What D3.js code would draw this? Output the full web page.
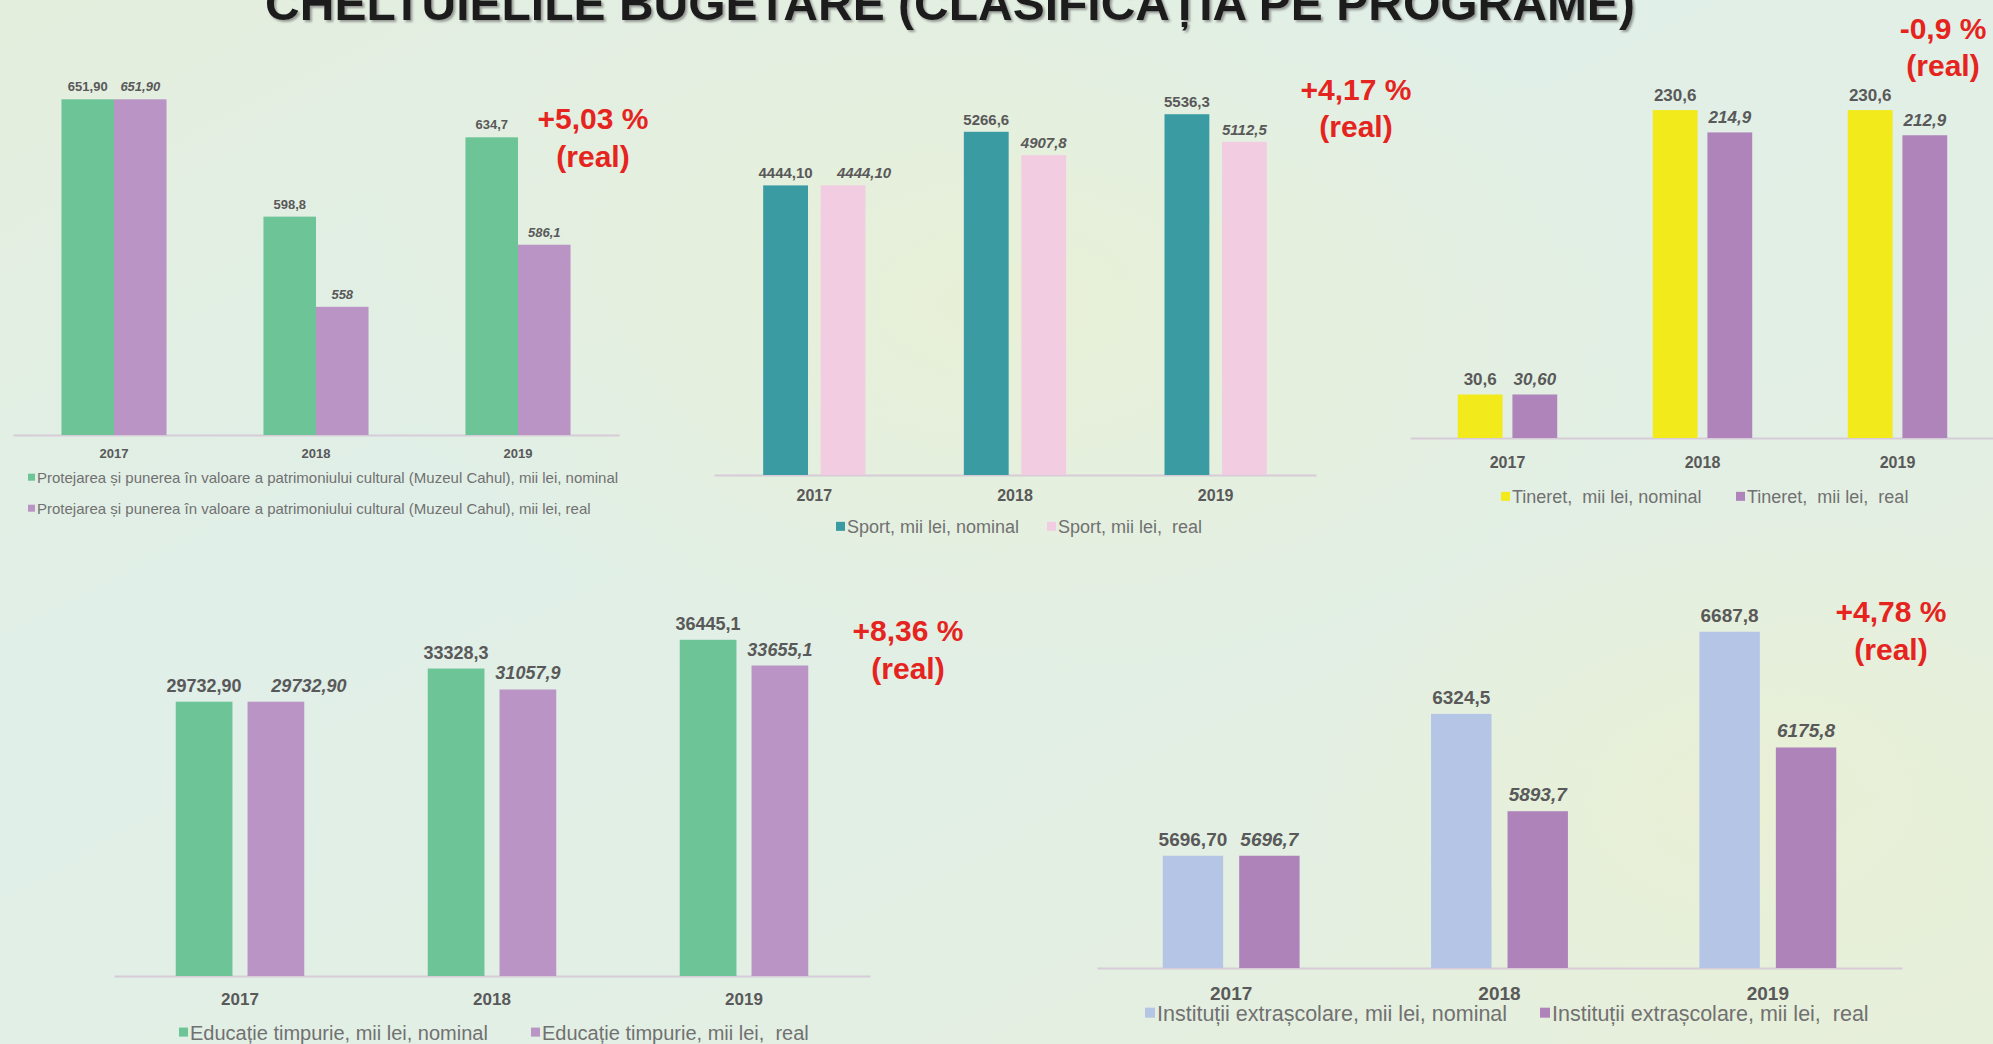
<!DOCTYPE html>
<html>
    <head>
        <title>Cheltuielile bugetare</title>
        <script src="https://d3js.org/d3.v7.min.js"></script>
        <style>
            body { margin: 0; overflow: hidden; }
            svg { display: block; font-family: 'Liberation Sans', Arial, sans-serif; }
            .legend text { white-space: pre; }
        </style>
    </head>
    <body>
        <script>
            const W = 1993
            const H = 1044

            const title = 'CHELTUIELILE BUGETARE (CLASIFICAȚIA PE PROGRAME)'
            const years = ['2017', '2018', '2019']

            // Muzeul Cahul
            const patrimoniuNominal = [651.9, 598.8, 634.7]
            const patrimoniuReal = [651.9, 558, 586.1]
            const patrimoniuNominalLabels = ['651,90', '598,8', '634,7']
            const patrimoniuRealLabels = ['651,90', '558', '586,1']
            const patrimoniuNames = [
                'Protejarea și punerea în valoare a patrimoniului cultural (Muzeul Cahul), mii lei, nominal',
                'Protejarea și punerea în valoare a patrimoniului cultural (Muzeul Cahul), mii lei, real'
            ]

            const sportNominal = [4444.1, 5266.6, 5536.3]
            const sportReal = [4444.1, 4907.8, 5112.5]
            const sportNominalLabels = ['4444,10', '5266,6', '5536,3']
            const sportRealLabels = ['4444,10', '4907,8', '5112,5']
            const sportNames = ['Sport, mii lei, nominal', 'Sport, mii lei,  real']

            const tineretNominal = [30.6, 230.6, 230.6]
            const tineretReal = [30.6, 214.9, 212.9]
            const tineretNominalLabels = ['30,6', '230,6', '230,6']
            const tineretRealLabels = ['30,60', '214,9', '212,9']
            const tineretNames = ['Tineret,  mii lei, nominal', 'Tineret,  mii lei,  real']

            const educatieNominal = [29732.9, 33328.3, 36445.1]
            const educatieReal = [29732.9, 31057.9, 33655.1]
            const educatieNominalLabels = ['29732,90', '33328,3', '36445,1']
            const educatieRealLabels = ['29732,90', '31057,9', '33655,1']
            const educatieNames = ['Educație timpurie, mii lei, nominal', 'Educație timpurie, mii lei,  real']

            const extrascolarNominal = [5696.7, 6324.5, 6687.8]
            const extrascolarReal = [5696.7, 5893.7, 6175.8]
            const extrascolarNominalLabels = ['5696,70', '6324,5', '6687,8']
            const extrascolarRealLabels = ['5696,7', '5893,7', '6175,8']
            const extrascolarNames = ['Instituții extrașcolare, mii lei, nominal', 'Instituții extrașcolare, mii lei,  real']

            const changes = ['+5,03 %', '+4,17 %', '-0,9 %', '+8,36 %', '+4,78 %']

            const svg = d3.select('body').append('svg')
                .attr('width', W)
                .attr('height', H)

            // background
            const defs = svg.append('defs')
            const bg = defs.append('linearGradient').attr('id', 'bg')
                .attr('x1', 0).attr('y1', 0).attr('x2', 1).attr('y2', 1)
            bg.append('stop').attr('offset', 0).attr('stop-color', '#e4eedd')
            bg.append('stop').attr('offset', 0.35).attr('stop-color', '#e0efe8')
            bg.append('stop').attr('offset', 0.7).attr('stop-color', '#e3efe3')
            bg.append('stop').attr('offset', 1).attr('stop-color', '#e6efda')
            const glow = defs.append('radialGradient').attr('id', 'glow')
            glow.append('stop').attr('offset', 0).attr('stop-color', '#e9f0d4').attr('stop-opacity', 0.9)
            glow.append('stop').attr('offset', 1).attr('stop-color', '#e9f0d4').attr('stop-opacity', 0)
            const shadow = defs.append('filter').attr('id', 'shadow')
            shadow.append('feDropShadow').attr('dx', 2).attr('dy', 2).attr('stdDeviation', 1)
                .attr('flood-color', '#777').attr('flood-opacity', 0.7)

            svg.append('rect').attr('width', W).attr('height', H).attr('fill', 'url(#bg)')
            svg.append('ellipse').attr('cx', 1000).attr('cy', 300).attr('rx', 650).attr('ry', 380)
                .attr('fill', 'url(#glow)')
            svg.append('ellipse').attr('cx', 1750).attr('cy', 800).attr('rx', 450).attr('ry', 300)
                .attr('fill', 'url(#glow)')

            svg.append('text')
                .attr('x', 950).attr('y', 20)
                .attr('text-anchor', 'middle')
                .attr('font-size', 48).attr('font-weight', 'bold')
                .attr('fill', '#1c1c1c')
                .attr('filter', 'url(#shadow)')
                .text(title)

            // shift: nudge of the first real label, as in the source slide
            const charts = [
                {
                    nominal: patrimoniuNominal, real: patrimoniuReal,
                    nominalLabels: patrimoniuNominalLabels, realLabels: patrimoniuRealLabels,
                    names: patrimoniuNames, change: changes[0],
                    colors: ['#6cc497', '#b994c4'],
                    xRange: [13, 619], base: 435, domain: [500, 700], top: -7,
                    group: 0.52, gap: 0, shift: 0,
                    valueSize: 13, valueOff: 8, yearSize: 13, yearDy: 23,
                    legendSize: 15, marker: 7,
                    legend: [[28, 483], [28, 514]],
                    note: [593, 118, 158]
                },
                {
                    nominal: sportNominal, real: sportReal,
                    nominalLabels: sportNominalLabels, realLabels: sportRealLabels,
                    names: sportNames, change: changes[1],
                    colors: ['#3a9ba3', '#f2cde1'],
                    xRange: [714, 1316], base: 475, domain: [0, 6000], top: 84,
                    group: 0.51, gap: 0.22, shift: 21,
                    valueSize: 15, valueOff: 7, yearSize: 16, yearDy: 26,
                    legendSize: 18, marker: 9,
                    legend: [[836, 533], [1047, 533]],
                    note: [1356, 89, 128]
                },
                {
                    nominal: tineretNominal, real: tineretReal,
                    nominalLabels: tineretNominalLabels, realLabels: tineretRealLabels,
                    names: tineretNames, change: changes[2],
                    colors: ['#f2ea1b', '#ae84ba'],
                    xRange: [1410, 1995], base: 438, domain: [0, 250], top: 82.5,
                    group: 0.51, gap: 0.18, shift: 0,
                    valueSize: 17, valueOff: 9, yearSize: 16, yearDy: 30,
                    legendSize: 18, marker: 9,
                    legend: [[1501, 503], [1736, 503]],
                    note: [1943, 28, 67]
                },
                {
                    nominal: educatieNominal, real: educatieReal,
                    nominalLabels: educatieNominalLabels, realLabels: educatieRealLabels,
                    names: educatieNames, change: changes[3],
                    colors: ['#6cc497', '#b994c4'],
                    xRange: [114, 870], base: 976, domain: [0, 40000], top: 607,
                    group: 0.51, gap: 0.21, shift: 33,
                    valueSize: 18, valueOff: 10, yearSize: 17, yearDy: 29,
                    legendSize: 20, marker: 9,
                    legend: [[179, 1040], [531, 1040]],
                    note: [908, 630, 670]
                },
                {
                    nominal: extrascolarNominal, real: extrascolarReal,
                    nominalLabels: extrascolarNominalLabels, realLabels: extrascolarRealLabels,
                    names: extrascolarNames, change: changes[4],
                    colors: ['#b4c5e6', '#ae83b9'],
                    xRange: [1097, 1902], base: 968, domain: [5200, 6800], top: 606.4,
                    group: 0.51, gap: 0.21, shift: 0,
                    valueSize: 19, valueOff: 10, yearSize: 19, yearDy: 32,
                    legendSize: 21.5, marker: 10,
                    legend: [[1145, 1021], [1540, 1021]],
                    note: [1891, 611, 651]
                }
            ]

            const drawChart = c => {
                const g = svg.append('g')
                const x0 = d3.scaleBand().domain(years).range(c.xRange)
                const groupW = x0.step() * c.group
                const x1 = d3.scaleBand().domain(['nominal', 'real']).range([0, groupW]).paddingInner(c.gap)
                const y = d3.scaleLinear().domain(c.domain).range([c.base, c.top])
                const off = (x0.step() - groupW) / 2

                const rows = []
                years.forEach((yr, i) => {
                    rows.push({ year: yr, key: 'nominal', value: c.nominal[i], label: c.nominalLabels[i], color: c.colors[0], dx: 0 })
                    rows.push({ year: yr, key: 'real', value: c.real[i], label: c.realLabels[i], color: c.colors[1], dx: i === 0 ? c.shift : 0 })
                })

                // axis with year labels
                const axis = g.append('g')
                    .attr('transform', `translate(0, ${c.base})`)
                    .call(d3.axisBottom(x0).tickSize(0).tickSizeOuter(0))
                axis.select('.domain').attr('stroke', '#d6cbd7').attr('stroke-width', 2)
                axis.selectAll('text')
                    .attr('dy', null).attr('y', c.yearDy)
                    .attr('font-family', 'Liberation Sans, Arial, sans-serif')
                    .attr('font-size', c.yearSize).attr('font-weight', 'bold')
                    .attr('fill', '#595959')

                g.selectAll('.bar')
                    .data(rows).enter()
                    .append('rect')
                        .attr('class', 'bar')
                        .attr('x', d => x0(d.year) + off + x1(d.key))
                        .attr('y', d => y(d.value))
                        .attr('width', x1.bandwidth())
                        .attr('height', d => c.base - y(d.value))
                        .attr('fill', d => d.color)

                g.selectAll('.value')
                    .data(rows).enter()
                    .append('text')
                        .attr('class', 'value')
                        .attr('x', d => x0(d.year) + off + x1(d.key) + x1.bandwidth() / 2 + d.dx)
                        .attr('y', d => y(d.value) - c.valueOff)
                        .attr('text-anchor', 'middle')
                        .attr('font-size', c.valueSize).attr('font-weight', 'bold')
                        .attr('font-style', d => d.key === 'real' ? 'italic' : 'normal')
                        .attr('fill', '#595959')
                        .text(d => d.label)

                // legend
                const leg = g.append('g').attr('class', 'legend')
                c.names.forEach((name, i) => {
                    const [lx, ly] = c.legend[i]
                    leg.append('rect')
                        .attr('x', lx).attr('y', ly - c.legendSize * 0.62)
                        .attr('width', c.marker).attr('height', c.marker)
                        .attr('fill', c.colors[i])
                    leg.append('text')
                        .attr('x', lx + c.marker + 2).attr('y', ly)
                        .attr('font-size', c.legendSize)
                        .attr('fill', '#717171')
                        .text(name)
                })

                // real change note
                const [nx, ny1, ny2] = c.note
                g.append('text')
                    .attr('x', nx).attr('y', ny1).attr('dy', '0.36em')
                    .attr('text-anchor', 'middle')
                    .attr('font-size', 30).attr('font-weight', 'bold')
                    .attr('fill', '#e52420')
                    .text(c.change)
                g.append('text')
                    .attr('x', nx).attr('y', ny2).attr('dy', '0.3em')
                    .attr('text-anchor', 'middle')
                    .attr('font-size', 30).attr('font-weight', 'bold')
                    .attr('fill', '#e52420')
                    .text('(real)')
            }

            charts.forEach(drawChart)
        </script>
    </body>
</html>
